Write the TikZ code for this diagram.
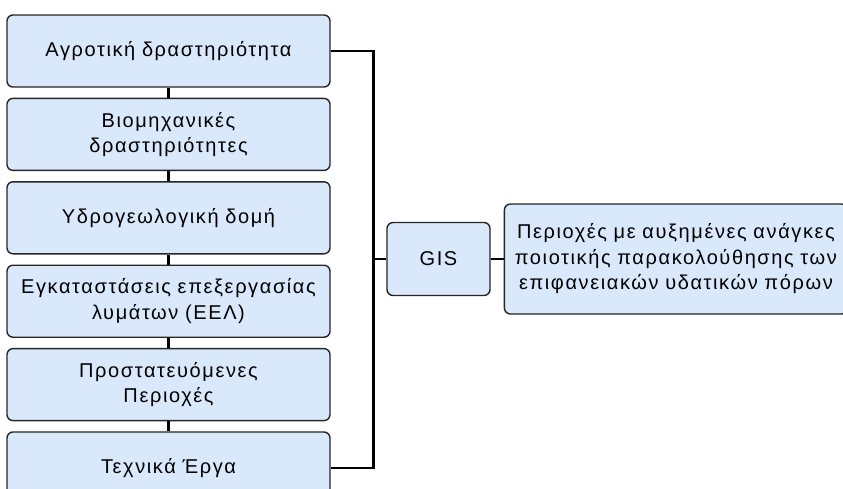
\documentclass[tikz,border=0pt]{standalone}
\usepackage{fontspec}
\setmainfont[LetterSpace=8]{Liberation Sans}
\usepackage{xcolor}
\usetikzlibrary{positioning}
\definecolor{boxblue}{HTML}{DAE8FC}
\tikzset{
  basebox/.style={rectangle, rounded corners=6pt, draw=black!85, line width=1.4pt, fill=boxblue,
    align=center, font=\fontsize{20}{25.5}\selectfont, inner sep=4pt},
  factorbox/.style={basebox, minimum width=323pt, minimum height=72pt, text width=315pt},
  gisbox/.style={basebox, minimum width=103pt, minimum height=73pt},
  resultbox/.style={basebox, minimum width=339pt, minimum height=110pt, text width=335pt},
  link/.style={line width=2.6pt, black}
}
\begin{document}
\begin{tikzpicture}[x=1pt, y=-1pt, node distance=10pt]
  \useasboundingbox (0,0) rectangle (843,488);
  \node[factorbox] (agro) at (168.5,51) {Αγροτική δραστηριότητα};
  \node[factorbox, below=of agro]  (bio)   {Βιομηχανικές\\δραστηριότητες};
  \node[factorbox, below=of bio]   (hydro) {Υδρογεωλογική δομή};
  \node[factorbox, below=of hydro] (wwtp)  {Εγκαταστάσεις επεξεργασίας\\λυμάτων (ΕΕΛ)};
  \node[factorbox, below=of wwtp]  (prot)  {Προστατευόμενες\\Περιοχές};
  \node[factorbox, below=of prot]  (tech)  {Τεχνικά Έργα};
  \node[gisbox] (gis) at (438.5,259) {GIS};
  \node[resultbox, right=13pt of gis] (area)
        {Περιοχές με αυξημένες ανάγκες\\ποιοτικής παρακολούθησης των\\επιφανειακών υδατικών πόρων};
  \foreach \a/\b in {agro/bio, bio/hydro, hydro/wwtp, wwtp/prot, prot/tech}
    \draw[link] (\a) -- (\b);
  \draw[link] (agro.east) -- ++(43,0) coordinate (bus) |- (tech.east);
  \draw[link] (bus |- gis.west) -- (gis.west);
  \draw[link] (gis) -- (area);
\end{tikzpicture}
\end{document}
